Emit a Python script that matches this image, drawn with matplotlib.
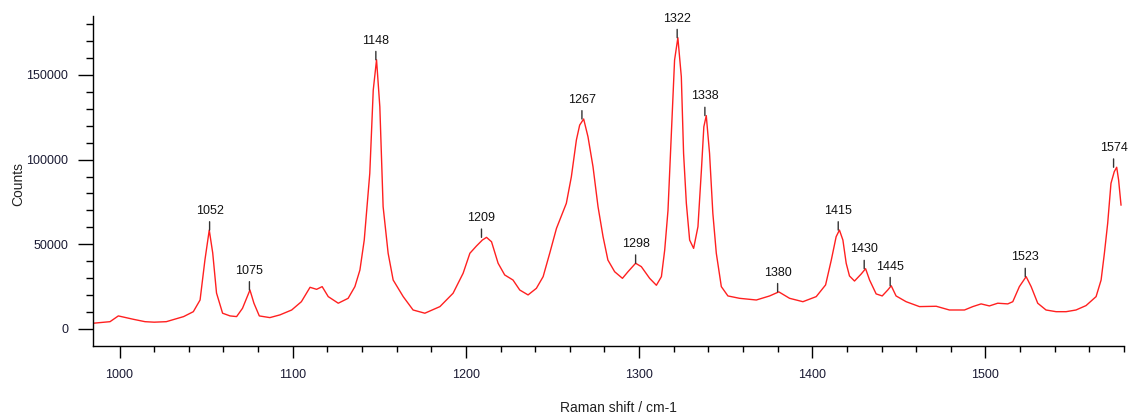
import numpy as np
import matplotlib.pyplot as plt
from matplotlib.ticker import MultipleLocator

# Raman spectrum
shift = [985, 994.5, 999.3, 1008, 1014.7, 1020, 1027, 1037, 1042.6, 1046.5, 1049.3,
         1051.8, 1053.8, 1056, 1059.5, 1063.8, 1067.6, 1071, 1075.3, 1077.6, 1080.7,
         1086.8, 1092.6, 1099.4, 1105, 1110, 1113.8, 1117, 1120.5, 1126.3, 1132,
         1135.9, 1138.8, 1141.3, 1144.5, 1146.5, 1148.4, 1150.3, 1152.2, 1155.1, 1158,
         1163.8, 1169.5, 1176.3, 1185, 1192.6, 1198.4, 1202.3, 1206.1, 1209.5, 1211.9,
         1214.8, 1218.6, 1222.4, 1227.2, 1231.1, 1235.9, 1240.7, 1244.6, 1248.4, 1252.3,
         1258, 1260.9, 1263.8, 1265.7, 1268, 1270.5, 1273.4, 1276.3, 1279.2, 1282,
         1285.9, 1290.4, 1293.6, 1298, 1301.3, 1306.1, 1310, 1312.9, 1314.8, 1316.7,
         1318.6, 1320.5, 1322.4, 1324.4, 1325.7, 1327.3, 1329.2, 1331.5, 1334, 1336,
         1337.4, 1338.8, 1340.7, 1342.6, 1344.6, 1347.5, 1351.3, 1358, 1367.7, 1375.4,
         1380.7, 1386.9, 1394.6, 1402.3, 1407.7, 1411, 1413.8, 1415.7, 1417.7, 1419.6,
         1421.5, 1424.4, 1428.3, 1430.8, 1433.1, 1436.9, 1440.4, 1443.6, 1445.6, 1448.4,
         1454.2, 1461.9, 1471.6, 1479.2, 1487.9, 1492.7, 1497.5, 1502.3, 1507.1, 1512.9,
         1515.8, 1519.6, 1523.5, 1526.4, 1530.2, 1535, 1540.8, 1546.6, 1552.3, 1558.1,
         1563.9, 1566.8, 1568.7, 1570.6, 1572.5, 1574.4, 1575.8, 1576.9, 1578.3]
counts = [3400, 4300, 7700, 5700, 4300, 4000, 4300, 7300, 10200, 17100, 40700,
          58400, 44900, 21200, 9300, 7700, 7300, 12200, 23000, 15200, 7700,
          6700, 8300, 11200, 16100, 24600, 23400, 25000, 19100, 15200, 18100,
          25000, 34800, 52500, 91900, 141100, 159000, 131200, 72200, 44700, 28900,
          19100, 11200, 9300, 13200, 21100, 32900, 44700, 49000, 52500, 54100,
          51500, 38800, 31900, 28900, 23000, 20100, 24000, 30900, 44700, 59400,
          74200, 89900, 111600, 120400, 124000, 113500, 95800, 72200, 54500, 40700,
          33800, 29900, 33800, 38800, 36800, 29900, 25800, 30900, 46600, 70000,
          114500, 158800, 172000, 148900, 103700, 74200, 52500, 47600, 60400, 93900,
          119400, 126000, 103700, 68300, 44700, 25000, 19500, 18100, 17100, 19500,
          21900, 18100, 16100, 19100, 26000, 40700, 54500, 58400, 52500, 38800,
          31300, 28300, 32500, 35600, 28900, 20700, 19500, 23000, 25500, 19500,
          16100, 13200, 13400, 11200, 11200, 13200, 14800, 13600, 15200, 14800,
          16100, 25000, 30900, 25000, 15200, 11200, 10200, 10200, 11200, 13800,
          19100, 28900, 44700, 62400, 86000, 92900, 95500, 88000, 73200]

peak_labels = [1052, 1075, 1148, 1209, 1267, 1298, 1322, 1338,
               1380, 1415, 1430, 1445, 1523, 1574]

fig = plt.figure(figsize=(11.32, 4.19), dpi=100)
ax = fig.add_axes([0.0822, 0.1749, 0.9107, 0.7876])

ax.plot(shift, counts, color='#ff2020', lw=1.0)

# peak markers: short dark stroke above the peak with its position on top
for p in peak_labels:
    near = [c for s, c in zip(shift, counts) if abs(s - p) <= 4]
    top = max(near)
    ax.annotate(str(p), xy=(p, top), xytext=(0, 9.5), textcoords='offset points',
                ha='center', va='bottom', fontsize=9, color='#111111',
                fontfamily='Liberation Sans',
                arrowprops=dict(arrowstyle='-', color='#333333', lw=1.0,
                                shrinkA=1.5, shrinkB=0))

ax.set_xlim(984.7, 1580)
ax.set_ylim(-9900, 185000)
ax.xaxis.set_major_locator(MultipleLocator(100))
ax.xaxis.set_minor_locator(MultipleLocator(20))
ax.yaxis.set_major_locator(MultipleLocator(50000))
ax.yaxis.set_minor_locator(MultipleLocator(10000))

ax.spines['top'].set_visible(False)
ax.spines['right'].set_visible(False)
for s in ('left', 'bottom'):
    ax.spines[s].set_linewidth(1.0)
    ax.spines[s].set_color('black')

ax.tick_params(axis='y', which='major', length=11, width=1, pad=7,
               labelsize=9, labelcolor='#1a1a33')
ax.tick_params(axis='y', which='minor', length=5, width=1)
ax.tick_params(axis='x', which='major', length=8.5, width=1, pad=8,
               labelsize=9, labelcolor='#1a1a33')
ax.tick_params(axis='x', which='minor', length=4.3, width=1)
for lab in ax.get_xticklabels() + ax.get_yticklabels():
    lab.set_fontfamily('Liberation Sans')

ax.set_xlabel('Raman shift / cm-1', fontsize=10, color='#222222',
              fontfamily='Liberation Sans')
ax.set_ylabel('Counts', fontsize=10, color='#222222',
              fontfamily='Liberation Sans')
ax.xaxis.set_label_coords(0.51, -0.168)
ax.yaxis.set_label_coords(-0.066, 0.49)

fig.savefig('out.png', dpi=100)
